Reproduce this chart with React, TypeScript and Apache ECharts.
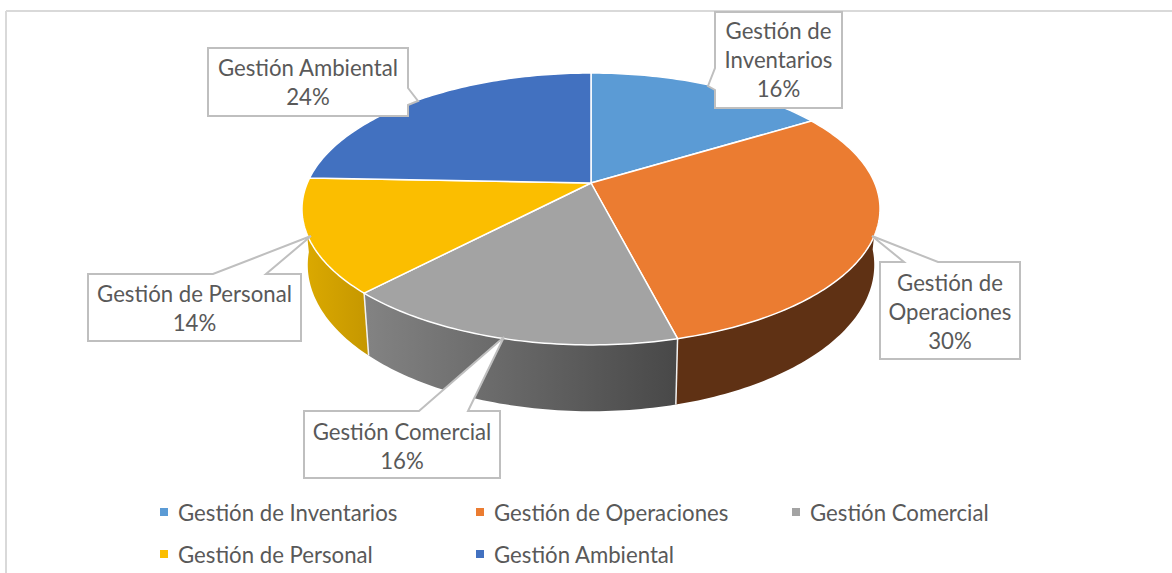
import React, { useEffect, useRef } from "react";
import * as echarts from "echarts";

const categories = ["Gestión de Inventarios", "Gestión de Operaciones", "Gestión Comercial", "Gestión de Personal", "Gestión Ambiental"];
const values = [16.3, 29.7, 16.1, 13.5, 24.4];
const wrappedNames = ["Gestión de\nInventarios", "Gestión de\nOperaciones", "Gestión Comercial", "Gestión de Personal", "Gestión Ambiental"];
const colors = ["#5b9bd5", "#eb7c31", "#a3a3a3", "#fbbe00", "#4271c0"];
const FONT = "Lato, 'Open Sans', sans-serif";
const TEXT = "#595959";

// geometry of the tilted disc
const CX = 591, CY = 183;
const A = 283.7, B = 131, K = -0.191;
const BX = 0.98, BY = 1.076, BD = 54;

const wallStops: (null | [string, string])[] = [null, ["#5f3114", "#5f3114"], ["#838383", "#484848"], ["#dcaa00", "#c59700"], null];
const WALL_FROM = 95, WALL_TO = 264;

// callouts: box [x0,y0,x1,y1], outline path including the pointer
const boxes = [
  { rect: [715, 12, 842, 108], side: "left", base: [68, 90], tip: [708, 86], ty: 59.5 },
  { rect: [880, 262, 1020, 359], side: "top", base: [904, 938], tip: [872, 236], ty: 311 },
  { rect: [304, 411, 500, 478], side: "top", base: [419, 468], tip: [504, 337], ty: 445.5 },
  { rect: [88, 274, 301, 341], side: "top", base: [213, 266], tip: [311, 236], ty: 308 },
  { rect: [208, 48, 408, 116], side: "right", base: [88, 105], tip: [418, 101], ty: 82 },
];
const legendPos = [[160, 512], [476, 512], [792, 512], [160, 554], [476, 554]];

function top(deg: number): [number, number] {
  const t = (deg * Math.PI) / 180;
  const s = Math.sin(t), c = -Math.cos(t), d = 1 + K * c;
  return [(A * s) / d, (B * c) / d];
}
const topPt = (deg: number): number[] => { const [x, y] = top(deg); return [CX + x, CY + y]; };
const basePt = (deg: number): number[] => { const [x, y] = top(deg); return [CX + x * BX, CY + BD + y * BY]; };
function arc(f: (d: number) => number[], a: number, b: number): number[][] {
  const pts: number[][] = [];
  const n = Math.max(2, Math.ceil(Math.abs(b - a)));
  for (let i = 0; i <= n; i++) pts.push(f(a + ((b - a) * i) / n));
  return pts;
}
function calloutPoints(b: typeof boxes[number]): number[][] {
  const [x0, y0, x1, y1] = b.rect;
  if (b.side === "top") return [[x0, y0], [b.base[0], y0], b.tip, [b.base[1], y0], [x1, y0], [x1, y1], [x0, y1]];
  if (b.side === "left") return [[x0, y0], [x1, y0], [x1, y1], [x0, y1], [x0, b.base[1]], b.tip, [x0, b.base[0]]];
  return [[x0, y0], [x1, y0], [x1, b.base[0]], b.tip, [x1, b.base[1]], [x1, y1], [x0, y1]];
}

export default function App() {
  const ref = useRef<HTMLDivElement>(null);
  useEffect(() => {
    document.body.style.margin = "0";
    const chart = echarts.init(ref.current!, undefined, { renderer: "svg" });
    const total = values.reduce((a, b) => a + b, 0);
    const starts = values.map((_, i) => values.slice(0, i).reduce((a, b) => a + b, 0));
    const series = categories.map((name, i) => ({
      type: "custom",
      name,
      coordinateSystem: "none",
      silent: true,
      itemStyle: { color: colors[i] },
      data: [[values[i]]],
      renderItem: (_p: any, api: any) => {
        const v = api.value(0) as number;
        const a0 = (starts[i] / total) * 360;
        const a1 = ((starts[i] + v) / total) * 360;
        const children: any[] = [];
        const stops = wallStops[i];
        if (stops) {
          const w0 = Math.max(a0, WALL_FROM), w1 = Math.min(a1, WALL_TO);
          const pts = [...arc(topPt, w0, w1), ...arc(basePt, w1, w0)];
          children.push({
            type: "polygon", z2: 1,
            shape: { points: pts },
            style: {
              fill: new echarts.graphic.LinearGradient(0, 0, 1, 0, [
                { offset: 0, color: stops[0] }, { offset: 1, color: stops[1] },
              ]),
            },
          });
          if (a0 > WALL_FROM) {
            children.push({
              type: "line", z2: 2,
              shape: { x1: topPt(a0)[0], y1: topPt(a0)[1], x2: basePt(a0)[0], y2: basePt(a0)[1] },
              style: { stroke: "#f2f2f2", lineWidth: 1.5 },
            });
          }
        }
        children.push({
          type: "polygon", z2: 3,
          shape: { points: [[CX, CY], ...arc(topPt, a0, a1)] },
          style: { fill: colors[i], stroke: "#ffffff", lineWidth: 1.5, lineJoin: "round" },
        });
        const b = boxes[i];
        children.push({
          type: "polygon", z2: 5,
          shape: { points: calloutPoints(b) },
          style: { fill: "#ffffff", stroke: "#bfbfbf", lineWidth: 2 },
        });
        children.push({
          type: "text", z2: 6,
          style: {
            x: (b.rect[0] + b.rect[2]) / 2, y: b.ty,
            text: `${wrappedNames[i]}\n${Math.round((v / total) * 100)}%`,
            fill: TEXT, font: `22.2px ${FONT}`, align: "center", verticalAlign: "middle", lineHeight: 29,
          },
        });
        return { type: "group", children };
      },
    }));
    chart.setOption({
      animation: false,
      backgroundColor: "#ffffff",
      graphic: [
        { type: "line", shape: { x1: 6, y1: 11, x2: 1172, y2: 11 }, style: { stroke: "#d9d9d9", lineWidth: 2 } },
        { type: "line", shape: { x1: 6, y1: 11, x2: 6, y2: 573 }, style: { stroke: "#d9d9d9", lineWidth: 2 } },
      ],
      legend: categories.map((name, i) => ({
        data: [name],
        left: legendPos[i][0],
        top: legendPos[i][1] - 14,
        icon: "rect",
        itemWidth: 8,
        itemHeight: 8,
        itemGap: 0,
        padding: 0,
        selectedMode: false,
        textStyle: { color: TEXT, fontFamily: FONT, fontSize: 22.2, lineHeight: 28, padding: [0, 0, 0, 5] },
      })),
      series,
    });
    return () => chart.dispose();
  }, []);
  return <div ref={ref} style={{ width: 1172, height: 573 }} />;
}
